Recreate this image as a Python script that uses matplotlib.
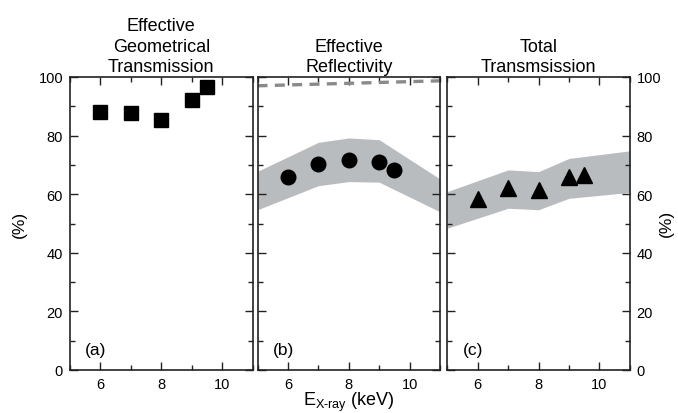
import numpy as np
import matplotlib
matplotlib.use('Agg')
import matplotlib.pyplot as plt
from matplotlib.ticker import MultipleLocator

plt.rcParams['font.family'] = ['Liberation Sans', 'DejaVu Sans']
plt.rcParams['mathtext.fontset'] = 'custom'
plt.rcParams['mathtext.rm'] = 'Liberation Sans'

# data
energy = [6, 7, 8, 9, 9.5]
geom_trans = [88.0, 87.7, 85.2, 92.2, 96.7]
reflect = [65.8, 70.4, 71.7, 71.1, 68.3]
total_trans = [58.5, 62.1, 61.5, 66.0, 66.7]

band_x = [5, 7, 8, 9, 11]
refl_hi = [67.8, 77.7, 79.2, 78.6, 65.2]
refl_lo = [54.7, 62.9, 64.3, 64.1, 54.0]
tot_hi = [60.9, 68.3, 67.7, 72.2, 74.8]
tot_lo = [48.4, 55.2, 54.7, 58.6, 60.6]

dash_x = [5, 11]
dash_y = [97.0, 98.7]

titles = ['Effective\nGeometrical\nTransmission', 'Effective\nReflectivity',
          'Total\nTransmsission']
letters = ['(a)', '(b)', '(c)']

W, H = 678, 414
fig = plt.figure(figsize=(W / 100, H / 100), dpi=100)

lefts = [70, 257.5, 447.3]
width = 182.5
top, bottom = 78, 371
axes = []
for l in lefts:
    ax = fig.add_axes([l / W, (H - bottom) / H, width / W, (bottom - top) / H])
    axes.append(ax)

band_col = '#b9bcbe'
ink = '#222222'

a, b, c = axes
a.plot(energy, geom_trans, 's', color='black', ms=9.5)

b.fill_between(band_x, refl_lo, refl_hi, color=band_col, lw=0)
b.plot(energy, reflect, 'o', color='black', ms=10.5)
b.plot(dash_x, dash_y, '--', color='#8a8a8a', lw=2.4, dashes=(3, 2.2))

c.fill_between(band_x, tot_lo, tot_hi, color=band_col, lw=0)
c.plot(energy, total_trans, '^', color='black', ms=11)

for i, ax in enumerate(axes):
    ax.set_xlim(5, 11)
    ax.set_ylim(0, 100)
    ax.xaxis.set_major_locator(MultipleLocator(2))
    ax.xaxis.set_minor_locator(MultipleLocator(1))
    ax.yaxis.set_major_locator(MultipleLocator(20))
    ax.yaxis.set_minor_locator(MultipleLocator(10))
    ax.tick_params(which='both', direction='in', top=True, right=True,
                   color=ink, width=1.0, labelsize=10.5, pad=5)
    ax.tick_params(which='major', length=6)
    ax.tick_params(which='minor', length=3.5)
    for s in ax.spines.values():
        s.set_linewidth(1.2)
        s.set_color(ink)
    ax.set_xticks([6, 8, 10])
    ax.set_xticklabels(['6', '8', '10'])
    ax.text(5.5, 4.5, letters[i], fontsize=12.5, ha='left', va='bottom')
    ax.set_title(titles[i], fontsize=13, linespacing=1.3, pad=4)

b.tick_params(axis='y', labelleft=False)
c.tick_params(axis='y', labelleft=False, labelright=True)

# the two "(%)" labels, placed like the original
fig.text(19 / W, 1 - 224 / H, '(%)', fontsize=12.5, rotation=90,
         ha='center', va='center')
fig.text(666.5 / W, 1 - 223 / H, '(%)', fontsize=12.5, rotation=90,
         ha='center', va='center')
b.set_xlabel('E$_{\\mathrm{X\\text{-}ray}}$ (keV)', fontsize=13, labelpad=-1)

fig.savefig('out.png', dpi=100)
